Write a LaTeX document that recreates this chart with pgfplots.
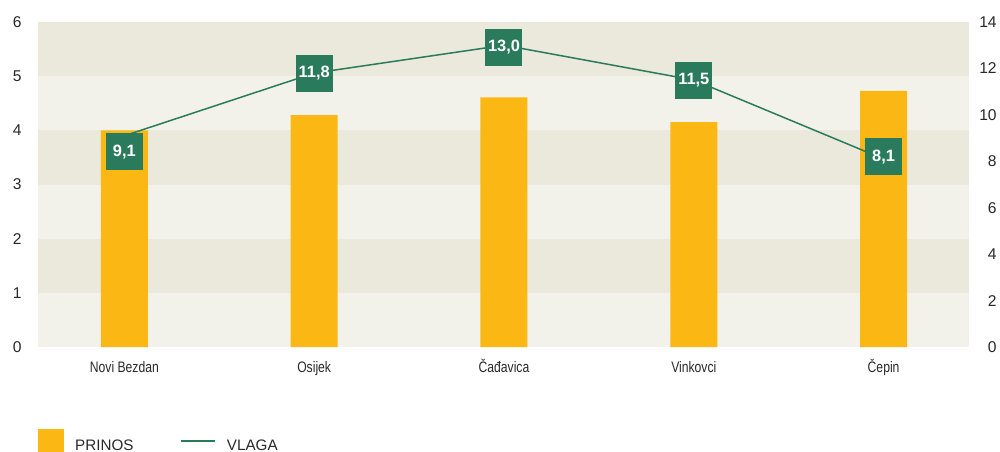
\documentclass[border=0pt]{standalone}
\usepackage{fontspec}
\setmainfont{Liberation Sans}
\newfontfamily\narrowfont{Liberation Sans}[FakeStretch=0.8]
\usepackage{pgfplots}
\usepackage{pgfplotstable}
\pgfplotsset{compat=1.18}

\definecolor{barc}{RGB}{251,184,21}
\definecolor{linec}{RGB}{42,123,92}
\definecolor{banddark}{RGB}{235,232,220}
\definecolor{bandlight}{RGB}{243,242,234}
\definecolor{txt}{RGB}{40,40,40}

% prinos (left axis)
\pgfplotstableread{
x y
0 4.00
1 4.28
2 4.61
3 4.15
4 4.73
}\prinos

% vlaga (right axis), off = vertical shift of the label box
\pgfplotstableread{
x y off
0 9.1 -8
1 11.8 0
2 13.0 -1
3 11.5 0
4 8.1 1
}\vlaga

\pgfplotsset{
  common/.style={
    scale only axis,
    width=465.5pt, height=162.5pt,
    at={(19pt,52pt)}, anchor=south west,
    xmin=-0.455, xmax=4.45,
    axis line style={draw=none},
    major tick length=0pt,
    tick style={draw=none},
    /pgf/number format/assume math mode=true,
    tick label style={font=\fontsize{7.8}{9}\selectfont, text=txt},
  },
}

\begin{document}
\begin{tikzpicture}
\path[use as bounding box] (0,0) rectangle (500pt,225.5pt);

\begin{axis}[
  common,
  axis x line*=bottom, axis y line*=left,
  ymin=0, ymax=6,
  ytick={0,1,...,6},
  xtick=data,
  xticklabels={Novi Bezdan, Osijek, Čađavica, Vinkovci, Čepin},
  xticklabel style={font=\narrowfont\fontsize{7.6}{9}\selectfont, anchor=north,
    inner sep=0pt, yshift=-7pt, text height=5.5pt, text depth=1.5pt},
  yticklabel style={anchor=east, inner sep=0pt, xshift=-8pt},
  axis background/.style={fill=bandlight},
]
\fill[banddark] (axis cs:-0.455,1) rectangle (axis cs:4.45,2);
\fill[banddark] (axis cs:-0.455,3) rectangle (axis cs:4.45,4);
\fill[banddark] (axis cs:-0.455,5) rectangle (axis cs:4.45,6);
\addplot[ybar, bar width=23.5pt, fill=barc, draw=none] table[x=x, y=y] {\prinos};
\end{axis}

\begin{axis}[
  common,
  axis y line*=right, axis x line=none,
  ymin=0, ymax=14,
  ytick={0,2,...,14},
  yticklabel style={anchor=east, inner sep=0pt, xshift=14pt},
  legend style={at={(0,-0.252)}, anchor=north west, draw=none, fill=none,
    inner sep=0pt, legend columns=-1,
    font=\fontsize{7.6}{9}\selectfont, text=txt,
    nodes={inner sep=0pt},
    /tikz/every odd column/.append style={column sep=5.5pt},
    /tikz/every even column/.append style={column sep=23.5pt}},
]
\addlegendimage{legend image code/.code={\fill[barc] (0pt,-4pt) rectangle (12.5pt,8.5pt);}}
\addlegendentry{PRINOS}
\addplot[linec, line width=0.75pt, mark=none,
  legend image code/.code={\draw[linec, line width=0.75pt] (0pt,2.85pt) -- (17pt,2.85pt);},
  visualization depends on={\thisrow{off} \as \myoff},
  nodes near coords={\pgfmathprintnumber[fixed, fixed zerofill, precision=1, use comma, assume math mode=true]{\pgfplotspointmeta}},
  every node near coord/.append style={anchor=center, yshift=\myoff pt,
    fill=linec, text=white, font=\bfseries\fontsize{8.2}{9}\selectfont,
    minimum width=18.5pt, minimum height=18.5pt, inner sep=0pt},
] table[x=x, y=y] {\vlaga};
\addlegendentry{VLAGA}
\end{axis}
\end{tikzpicture}
\end{document}
